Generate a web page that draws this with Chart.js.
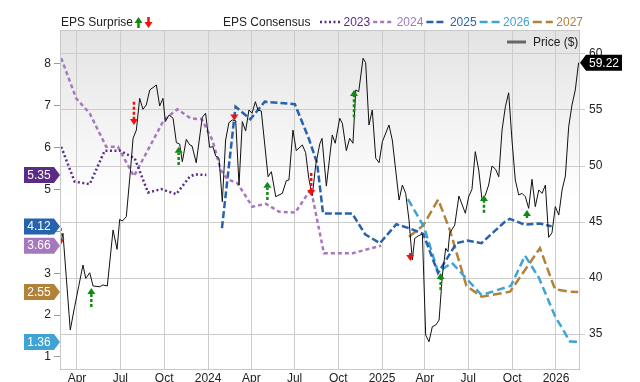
<!DOCTYPE html>
<html>
<head>
<meta charset="utf-8">
<script src="https://cdn.jsdelivr.net/npm/chart.js@4.4.1/dist/chart.umd.min.js"></script>
<style>
  html, body { margin: 0; padding: 0; background: #fff; }
  #wrap { width: 640px; height: 382px; }
</style>
</head>
<body>
<div id="wrap"><canvas id="epsChart"></canvas></div>
<script>
// x values are decimal years (2024.5 = middle of 2024)
const priceYears = [
  2023.153, 2023.166, 2023.208, 2023.233, 2023.256, 2023.281, 2023.297, 2023.320, 2023.339, 2023.377,
  2023.396, 2023.421, 2023.454, 2023.477, 2023.492, 2023.507, 2023.530, 2023.555, 2023.569, 2023.588,
  2023.607, 2023.626, 2023.645, 2023.665, 2023.703, 2023.722, 2023.741, 2023.754, 2023.776, 2023.799,
  2023.818, 2023.837, 2023.852, 2023.875, 2023.895, 2023.908, 2023.932, 2023.967, 2023.986, 2024.009,
  2024.028, 2024.044, 2024.063, 2024.082, 2024.101, 2024.120, 2024.139, 2024.159, 2024.178, 2024.197,
  2024.216, 2024.235, 2024.253, 2024.272, 2024.287, 2024.306, 2024.345, 2024.364, 2024.389, 2024.427,
  2024.450, 2024.465, 2024.488, 2024.507, 2024.542, 2024.561, 2024.579, 2024.599, 2024.619, 2024.642,
  2024.655, 2024.680, 2024.714, 2024.731, 2024.757, 2024.772, 2024.795, 2024.814, 2024.833, 2024.849,
  2024.866, 2024.891, 2024.906, 2024.925, 2024.944, 2024.964, 2024.983, 2025.002, 2025.040, 2025.059,
  2025.098, 2025.117, 2025.136, 2025.155, 2025.174, 2025.188, 2025.207, 2025.232, 2025.251, 2025.270,
  2025.289, 2025.309, 2025.328, 2025.347, 2025.366, 2025.379, 2025.389, 2025.418, 2025.442, 2025.479,
  2025.498, 2025.517, 2025.536, 2025.556, 2025.575, 2025.594, 2025.613, 2025.632, 2025.653, 2025.671,
  2025.690, 2025.709, 2025.728, 2025.747, 2025.766, 2025.786, 2025.805, 2025.824, 2025.843, 2025.862,
  2025.881, 2025.901, 2025.920, 2025.939, 2025.958, 2025.977, 2025.996, 2026.016, 2026.035, 2026.054,
  2026.073, 2026.092, 2026.111, 2026.130
];
const priceValues = [
  43.10, 43.99, 35.36, 37.44, 39.22, 41.16, 39.97, 40.47, 39.29, 39.22,
  39.38, 39.29, 44.29, 42.56, 45.24, 45.09, 45.47, 49.79, 52.47, 53.21,
  56.04, 55.06, 55.45, 56.79, 57.23, 55.36, 56.04, 53.96, 54.55, 54.26,
  52.08, 51.96, 50.38, 52.38, 51.88, 51.79, 50.29, 54.35, 54.71, 51.67,
  51.72, 50.89, 50.69, 46.81, 52.32, 53.87, 54.11, 54.04, 48.30, 53.96,
  53.13, 55.00, 54.71, 55.74, 55.00, 54.91, 49.04, 49.49, 47.26, 47.56,
  48.69, 48.75, 53.21, 51.37, 51.88, 51.19, 48.90, 47.35, 50.09, 51.96,
  52.47, 48.21, 52.77, 52.03, 54.26, 53.81, 51.37, 52.47, 52.03, 56.79,
  56.63, 59.62, 59.22, 53.66, 55.00, 50.69, 50.29, 52.17, 53.66, 52.32,
  46.96, 48.30, 47.56, 45.18, 41.61, 43.54, 43.75, 43.93, 34.91, 34.31,
  35.65, 35.80, 36.25, 40.27, 42.65, 42.35, 43.99, 44.73, 47.32, 45.78,
  47.26, 47.92, 51.28, 49.64, 46.96, 47.41, 48.30, 50.00, 49.71, 49.04,
  53.21, 55.29, 56.54, 52.32, 48.75, 47.41, 47.56, 47.26, 46.22, 48.81,
  46.37, 47.86, 47.56, 48.30, 43.63, 44.04, 46.37, 45.62, 47.86, 49.11,
  53.51, 55.45, 56.79, 59.22
];

// EPS consensus per fiscal year
const eps2023Years  = [2023.156, 2023.233, 2023.320, 2023.406, 2023.492, 2023.578, 2023.655, 2023.731, 2023.817, 2023.895, 2023.923, 2023.990];
const eps2023Values = [6.02, 5.19, 5.13, 5.93, 5.93, 5.75, 4.93, 5.01, 4.89, 5.31, 5.36, 5.35];

const eps2024Years  = [2023.156, 2023.242, 2023.320, 2023.415, 2023.482, 2023.574, 2023.746, 2023.823, 2023.900, 2023.964,
                       2024.025, 2024.073, 2024.111, 2024.169, 2024.255, 2024.332, 2024.409, 2024.501, 2024.591, 2024.666,
                       2024.832, 2024.995];
const eps2024Values = [8.14, 7.18, 6.82, 6.02, 6.02, 5.32, 6.66, 6.92, 6.70, 6.68,
                       6.18, 5.47, 5.25, 5.15, 4.59, 4.66, 4.47, 4.45, 5.01, 3.48,
                       3.48, 3.66];

const eps2025Years  = [2024.080, 2024.158, 2024.243, 2024.326, 2024.499, 2024.579, 2024.627, 2024.661, 2024.828, 2024.903,
                       2024.988, 2025.082, 2025.160, 2025.237, 2025.322, 2025.428, 2025.489, 2025.572, 2025.706, 2025.735,
                       2025.821, 2025.907, 2025.975];
const eps2025Values = [4.08, 6.98, 6.68, 7.10, 7.04, 6.22, 5.63, 4.43, 4.43, 3.93,
                       3.72, 4.17, 4.07, 3.94, 3.01, 3.72, 3.78, 3.72, 4.23, 4.30,
                       4.16, 4.19, 4.12];

const eps2026Years  = [2025.149, 2025.241, 2025.322, 2025.402, 2025.572, 2025.741, 2025.822, 2025.902, 2025.994, 2026.080, 2026.129];
const eps2026Values = [4.77, 4.11, 3.03, 3.25, 2.48, 2.70, 3.42, 2.89, 1.98, 1.37, 1.36];

const eps2027Years  = [2025.155, 2025.238, 2025.323, 2025.390, 2025.485, 2025.572, 2025.736, 2025.908, 2025.994, 2026.080, 2026.128];
const eps2027Values = [3.87, 4.15, 4.76, 4.03, 2.70, 2.44, 2.56, 3.60, 2.62, 2.56, 2.55];

// EPS surprise arrows: where they sit on the price scale
const surpriseYears = [2023.152, 2023.329, 2023.574, 2023.831, 2024.151, 2024.341, 2024.593, 2024.839, 2025.162, 2025.337, 2025.586, 2025.833];
const surpriseFrom  = [44.46, 37.41, 55.74, 50.09, 54.46, 46.96, 49.38, 54.35, 42.23, 38.93, 45.83, 45.36];
const surpriseTo    = [42.95, 39.11, 53.66, 51.72, 54.06, 48.60, 47.32, 56.79, 41.52, 40.45, 47.41, 46.07];

const epsTicks = [1, 2, 3, 4, 5, 6, 7, 8];
const priceTicks = [35, 40, 45, 50, 55, 60];
const xTickMonths = [[2023, 4], [2023, 7], [2023, 10], [2024, 1], [2024, 4], [2024, 7], [2024, 10],
                     [2025, 1], [2025, 4], [2025, 7], [2025, 10], [2026, 1]];
const monthNames = { 1: null, 4: 'Apr', 7: 'Jul', 10: 'Oct' };

const FONT = '"Liberation Sans", Arial, sans-serif';

function decYear(y, m) {
    const start = Date.UTC(y, 0, 1), next = Date.UTC(y + 1, 0, 1);
    return y + (Date.UTC(y, m - 1, 1) - start) / (next - start);
}
const xTickLabels = xTickMonths.map(([y, m]) => monthNames[m] || String(y));

const series = [
    { label: '2023', years: eps2023Years, values: eps2023Values, color: '#5b2b86', dash: [2, 2.5] },
    { label: '2024', years: eps2024Years, values: eps2024Values, color: '#a679bf', dash: [4, 3] },
    { label: '2025', years: eps2025Years, values: eps2025Values, color: '#2763ad', dash: [7, 3] },
    { label: '2026', years: eps2026Years, values: eps2026Values, color: '#3fa3d4', dash: [8, 4] },
    { label: '2027', years: eps2027Years, values: eps2027Values, color: '#b3823a', dash: [9, 4] }
];

const pts = (xs, ys) => xs.map((x, i) => ({ x: x, y: ys[i] }));

const datasets = [{
    label: 'Price ($)',
    data: pts(priceYears, priceValues),
    yAxisID: 'price',
    borderColor: '#111',
    borderWidth: 1,
    pointRadius: 0,
    tension: 0
}].concat(series.map(s => ({
    label: s.label,
    data: pts(s.years, s.values),
    yAxisID: 'eps',
    borderColor: s.color,
    borderWidth: 2.5,
    borderDash: s.dash,
    pointRadius: 0,
    tension: 0
})));

function arrow(ctx, x, yTail, yTip, color, dashed) {
    const up = yTip < yTail;
    const head = 6;
    const base = up ? yTip + head : yTip - head;
    ctx.save();
    if (Math.abs(yTail - yTip) > head) {
        ctx.strokeStyle = color;
        ctx.lineWidth = 2.5;
        ctx.setLineDash(dashed ? [3, 2] : []);
        ctx.beginPath();
        ctx.moveTo(x, yTail);
        ctx.lineTo(x, base);
        ctx.stroke();
    }
    ctx.setLineDash([]);
    ctx.fillStyle = color;
    ctx.beginPath();
    ctx.moveTo(x, yTip);
    ctx.lineTo(x - 4, base);
    ctx.lineTo(x + 4, base);
    ctx.closePath();
    ctx.fill();
    ctx.restore();
}

function tag(ctx, xTip, y, w, color, text, pointLeft) {
    const h = 8, p = 6;
    ctx.fillStyle = color;
    ctx.beginPath();
    if (pointLeft) {
        ctx.moveTo(xTip, y);
        ctx.lineTo(xTip + p, y - h);
        ctx.lineTo(xTip + w, y - h);
        ctx.lineTo(xTip + w, y + h);
        ctx.lineTo(xTip + p, y + h);
    } else {
        ctx.moveTo(xTip, y);
        ctx.lineTo(xTip - p, y - h);
        ctx.lineTo(xTip - w, y - h);
        ctx.lineTo(xTip - w, y + h);
        ctx.lineTo(xTip - p, y + h);
    }
    ctx.closePath();
    ctx.fill();
    ctx.fillStyle = '#fff';
    ctx.font = '12px ' + FONT;
    ctx.textBaseline = 'middle';
    ctx.textAlign = 'center';
    ctx.fillText(text, pointLeft ? xTip + (w + p) / 2 : xTip - (w + p) / 2, y + 0.5);
}

const decorations = {
    id: 'decorations',
    beforeDraw(chart) {
        const { ctx, chartArea: a } = chart;
        const g = ctx.createLinearGradient(0, a.top, 0, a.bottom);
        g.addColorStop(0, '#e3e3e3');
        g.addColorStop(0.5, '#ffffff');
        g.addColorStop(1, '#ffffff');
        ctx.save();
        ctx.fillStyle = g;
        ctx.fillRect(a.left, a.top, a.right - a.left, a.bottom - a.top);
        ctx.restore();
    },
    afterDatasetsDraw(chart) {
        const { ctx, chartArea: a, scales } = chart;
        ctx.save();
        ctx.beginPath();
        ctx.rect(a.left, a.top, a.right - a.left, a.bottom - a.top);
        ctx.clip();
        surpriseYears.forEach((yr, i) => {
            const x = scales.x.getPixelForValue(yr);
            const beat = surpriseTo[i] > surpriseFrom[i];
            arrow(ctx, x, scales.price.getPixelForValue(surpriseFrom[i]),
                  scales.price.getPixelForValue(surpriseTo[i]), beat ? '#118a11' : '#ee1111', true);
        });
        ctx.restore();
    },
    afterDraw(chart) {
        const { ctx, chartArea: a, scales } = chart;
        ctx.save();
        // plot frame
        ctx.strokeStyle = '#c8c8c8';
        ctx.lineWidth = 1;
        ctx.strokeRect(a.left + 0.5, a.top + 0.5, a.right - a.left - 1, a.bottom - a.top - 1);

        // top legend
        ctx.font = '12px ' + FONT;
        ctx.textBaseline = 'middle';
        ctx.textAlign = 'left';
        ctx.fillStyle = '#222';
        ctx.fillText('EPS Surprise', 61, 23);
        arrow(ctx, 138.5, 28, 17, '#118a11', false);
        arrow(ctx, 148.5, 17, 28, '#ee1111', false);
        ctx.fillStyle = '#222';
        ctx.fillText('EPS Consensus', 223, 23);
        let x = 320;
        series.forEach(s => {
            ctx.strokeStyle = s.color;
            ctx.lineWidth = 2.5;
            ctx.setLineDash(s.dash);
            ctx.beginPath();
            ctx.moveTo(x, 22);
            ctx.lineTo(x + 20, 22);
            ctx.stroke();
            ctx.setLineDash([]);
            ctx.fillStyle = s.color;
            ctx.fillText(s.label, x + 23.5, 23);
            x += 53.2;
        });

        // price legend inside the plot
        ctx.strokeStyle = '#666';
        ctx.lineWidth = 3;
        ctx.beginPath();
        ctx.moveTo(507, 42);
        ctx.lineTo(526, 42);
        ctx.stroke();
        ctx.fillStyle = '#222';
        ctx.fillText('Price ($)', 533, 42.5);

        // last-value tags
        series.forEach(s => {
            const v = s.values[s.values.length - 1];
            tag(ctx, a.left, scales.eps.getPixelForValue(v), 36, s.color, v.toFixed(2), false);
        });
        const lastPrice = priceValues[priceValues.length - 1];
        tag(ctx, a.right, scales.price.getPixelForValue(lastPrice), 42, '#000', lastPrice.toFixed(2), true);
        ctx.restore();
    }
};

new Chart(document.getElementById('epsChart'), {
    type: 'line',
    data: { datasets: datasets },
    options: {
        responsive: true,
        maintainAspectRatio: false,
        animation: false,
        devicePixelRatio: 1,
        layout: { padding: { top: 30, left: 0, right: 0, bottom: 0 } },
        plugins: { legend: { display: false }, tooltip: { enabled: false } },
        scales: {
            x: {
                type: 'linear',
                min: 2023.149,
                max: 2026.138,
                afterBuildTicks: s => { s.ticks = xTickMonths.map(([y, m]) => ({ value: decYear(y, m) })); },
                afterFit: s => { s.height = 12; },
                ticks: {
                    callback: (v, i) => xTickLabels[i],
                    autoSkip: false, maxRotation: 0, padding: 1,
                    color: '#222', font: { size: 12, family: FONT }
                },
                grid: { color: '#cccccc', drawTicks: false },
                border: { display: false }
            },
            eps: {
                type: 'linear',
                position: 'left',
                min: 0.689,
                max: 8.812,
                afterBuildTicks: s => { s.ticks = epsTicks.map(v => ({ value: v })); },
                afterFit: s => { s.width = 60; },
                ticks: { padding: 3, color: '#222', font: { size: 12, family: FONT } },
                grid: { drawOnChartArea: false, tickLength: 6, color: '#999' },
                border: { display: false }
            },
            price: {
                type: 'linear',
                position: 'right',
                min: 31.79,
                max: 62.14,
                afterBuildTicks: s => { s.ticks = priceTicks.map(v => ({ value: v })); },
                afterFit: s => { s.width = 60; },
                ticks: { padding: 4, color: '#222', font: { size: 12, family: FONT } },
                grid: { color: '#cccccc', tickLength: 5 },
                border: { display: false }
            }
        }
    },
    plugins: [decorations]
});
</script>
</body>
</html>
